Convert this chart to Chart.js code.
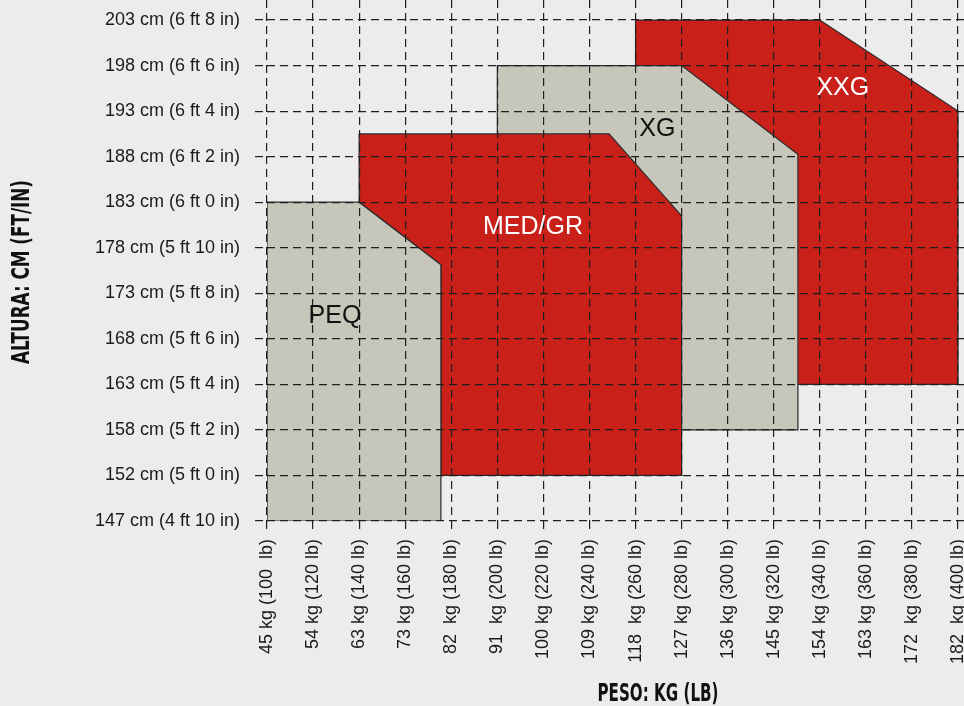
<!DOCTYPE html>
<html>
<head>
<meta charset="utf-8">
<script src="https://cdn.jsdelivr.net/npm/chart.js@4/dist/chart.umd.min.js"></script>
<style>
  html, body { margin: 0; padding: 0; background: #ececec; }
  #c { display: block; }
</style>
</head>
<body>
<canvas id="c" width="964" height="706"></canvas>
<script>
// ---- Data (weight in lb on x, height in inches on y) ----
const weightLb = [100, 120, 140, 160, 180, 200, 220, 240, 260, 280, 300, 320, 340, 360, 380, 400];
const weightLabels = ['45 kg (100  lb)', '54 kg (120 lb)', '63 kg (140 lb)', '73 kg (160 lb)', '82  kg (180 lb)',
  '91  kg (200 lb)', '100 kg (220 lb)', '109 kg (240 lb)', '118  kg (260 lb)', '127 kg (280 lb)',
  '136 kg (300 lb)', '145 kg (320 lb)', '154 kg (340 lb)', '163 kg (360 lb)', '172  kg (380 lb)', '182  kg (400 lb)'];
const heightIn = [58, 60, 62, 64, 66, 68, 70, 72, 74, 76, 78, 80];
const heightLabels = ['147 cm (4 ft 10 in)', '152 cm (5 ft 0 in)', '158 cm (5 ft 2 in)', '163 cm (5 ft 4 in)',
  '168 cm (5 ft 6 in)', '173 cm (5 ft 8 in)', '178 cm (5 ft 10 in)', '183 cm (6 ft 0 in)',
  '188 cm (6 ft 2 in)', '193 cm (6 ft 4 in)', '198 cm (6 ft 6 in)', '203 cm (6 ft 8 in)'];

const sizeNames = ['PEQ', 'MED/GR', 'XG', 'XXG'];
const peqX   = [100, 100, 140, 175.5, 175.5, 100];
const peqY   = [58, 72, 72, 69.25, 58, 58];
const medX   = [175.5, 175.5, 140, 140, 248.5, 280, 280, 175.5];
const medY   = [60, 69.25, 72, 75, 75, 71.4, 60, 60];
const xgX    = [200, 200, 280, 330.5, 330.5, 200];
const xgY    = [62, 78, 78, 74.1, 62, 62];
const xxgX   = [260, 260, 340, 400, 400, 260, 260];
const xxgY   = [64, 80, 80, 76, 64, 64, 64];
// label anchor (centre of each size name), in data units
const labelX = [129.5, 215.5, 269.5, 350];
const labelY = [67, 70.9, 75.2, 77];

// ---- styling ----
const RED = '#c9201a';
const GREY = '#c6c6ba';
const fills = [GREY, RED, GREY, RED];
const labelColors = ['#111', '#fff', '#111', '#fff'];
const FONT = "'Liberation Sans', Arial, sans-serif";
const TITLE_FONT = "'DejaVu Sans Condensed', 'DejaVu Sans', sans-serif";

function pts(xs, ys) { return xs.map((x, i) => ({ x: x, y: ys[i] })); }
const shapes = [pts(peqX, peqY), pts(medX, medY), pts(xgX, xgY), pts(xxgX, xxgY)];

const datasets = shapes.map((d, i) => ({
  label: sizeNames[i],
  data: d,
  backgroundColor: fills[i],
  borderColor: '#2a2a2a',
  borderWidth: 1.2,
  fill: 'shape',
  tension: 0,
  pointRadius: 0,
  pointHoverRadius: 0,
  order: i + 1
}));

const bgPlugin = {
  id: 'bg',
  beforeDraw(chart) {
    const ctx = chart.ctx;
    ctx.save();
    ctx.fillStyle = '#ececec';
    ctx.fillRect(0, 0, chart.width, chart.height);
    ctx.restore();
  }
};

function drawCondensed(ctx, text, cx, cy, targetW, angle) {
  ctx.save();
  ctx.font = 'bold 25px ' + TITLE_FONT;
  const w = ctx.measureText(text).width;
  ctx.translate(cx, cy);
  ctx.rotate(angle);
  ctx.scale(targetW / w, 1);
  ctx.fillStyle = '#111';
  ctx.textAlign = 'center';
  ctx.textBaseline = 'middle';
  ctx.fillText(text, 0, 0);
  ctx.restore();
}

const textPlugin = {
  id: 'texts',
  afterDraw(chart) {
    const ctx = chart.ctx;
    const xs = chart.scales.x, ys = chart.scales.y;
    ctx.save();
    ctx.font = '25px ' + FONT;
    ctx.textAlign = 'center';
    ctx.textBaseline = 'middle';
    sizeNames.forEach((n, i) => {
      ctx.fillStyle = labelColors[i];
      ctx.fillText(n, xs.getPixelForValue(labelX[i]), ys.getPixelForValue(labelY[i]));
    });
    ctx.restore();
    drawCondensed(ctx, 'PESO: KG (LB)', 658, 694, 121, 0);
    drawCondensed(ctx, 'ALTURA: CM (FT/IN)', 22, 272, 184, -Math.PI / 2);
  }
};

const gridStyle = {
  z: 1,
  color: '#1e1e1e',
  lineWidth: 1.2,
  tickLength: 12,
  tickColor: '#1e1e1e',
  tickWidth: 1.2,
  tickBorderDash: [8, 5],
  drawTicks: true
};

new Chart(document.getElementById('c'), {
  type: 'line',
  data: { datasets: datasets },
  options: {
    responsive: false,
    animation: false,
    events: [],
    layout: { padding: 0 },
    plugins: { legend: { display: false }, tooltip: { enabled: false } },
    scales: {
      x: {
        type: 'linear',
        min: 100,
        max: 402.6,
        border: { display: false, dash: [8, 5] },
        grid: gridStyle,
        afterBuildTicks(s) { s.ticks = weightLb.map(v => ({ value: v })); },
        afterFit(s) { s.height = 185; s.paddingLeft = 0; s.paddingRight = 0; },
        ticks: {
          z: 2,
          autoSkip: false,
          minRotation: 90,
          maxRotation: 90,
          padding: 6,
          color: '#1a1a1a',
          font: { family: FONT, size: 18 },
          callback(v) { const i = weightLb.indexOf(v); return i >= 0 ? weightLabels[i] : ''; }
        }
      },
      y: {
        type: 'linear',
        min: 58,
        max: 80.88,
        border: { display: false, dash: [8, 5] },
        grid: gridStyle,
        afterBuildTicks(s) { s.ticks = heightIn.map(v => ({ value: v })); },
        afterFit(s) { s.width = 267; s.paddingTop = 0; s.paddingBottom = 0; },
        ticks: {
          z: 2,
          autoSkip: false,
          padding: 15,
          color: '#1a1a1a',
          font: { family: FONT, size: 18 },
          callback(v) { const i = heightIn.indexOf(v); return i >= 0 ? heightLabels[i] : ''; }
        }
      }
    }
  },
  plugins: [bgPlugin, textPlugin]
});
</script>
</body>
</html>
